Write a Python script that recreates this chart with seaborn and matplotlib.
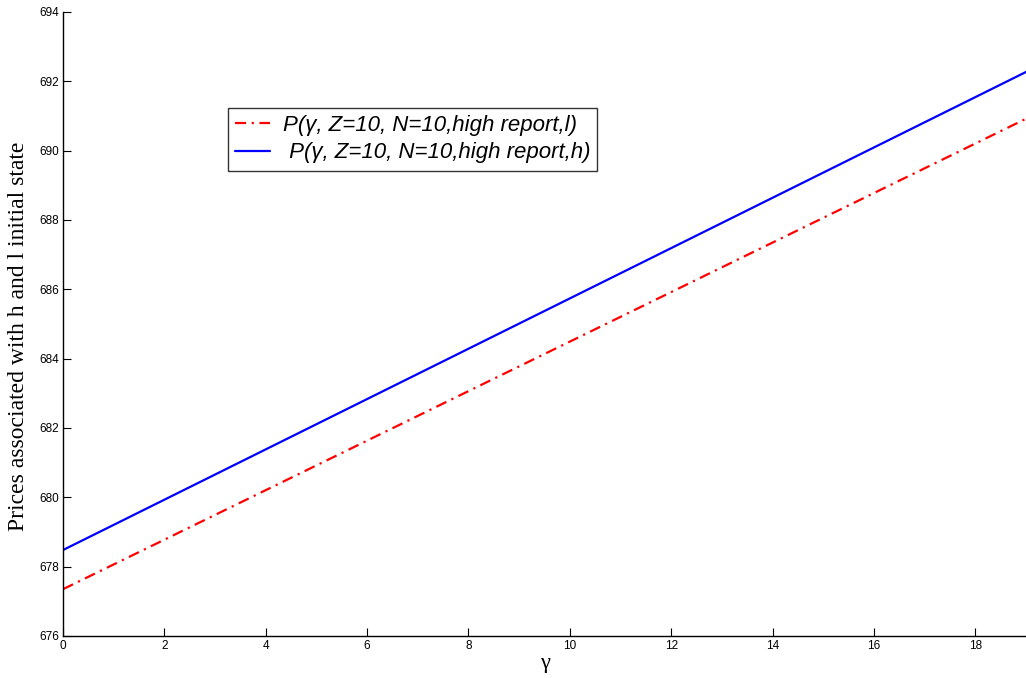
import seaborn as sns
import matplotlib.pyplot as plt
import pandas as pd
import numpy as np

# values
gamma = [0, 19]
price_l = [677.35, 690.92]
price_h = [678.48, 692.27]
label_l = 'P(γ, Z=10, N=10,high report,l)'
label_h = ' P(γ, Z=10, N=10,high report,h)'

df = pd.DataFrame({'gamma': gamma + gamma,
                   'price': price_l + price_h,
                   'series': [label_l] * len(gamma) + [label_h] * len(gamma)})

sns.set_style('ticks', {'text.color': 'black', 'xtick.color': 'black',
                        'ytick.color': 'black', 'axes.labelcolor': 'black'})
plt.rcParams['font.family'] = ['Liberation Sans', 'DejaVu Sans']

fig = plt.figure(figsize=(10.26, 6.78), dpi=100)
ax = fig.add_axes([63 / 1026, 42 / 678, 963 / 1026, 624 / 678])

ax = sns.lineplot(data=df, x='gamma', y='price', hue='series', style='series',
                  palette=['#ff0000', '#0000ff'],
                  dashes=[(5, 2.5, 1, 2.5), ''], linewidth=1.6, ax=ax)

ax.set_xlim(0, 19)
ax.set_ylim(676, 694)
ax.set_xticks(np.arange(0, 19, 2))
ax.set_yticks(np.arange(676, 695, 2))
ax.tick_params(direction='in', length=6, width=0.8, labelsize=8.5, pad=3)
for s in ['top', 'right']:
    ax.spines[s].set_visible(False)
for s in ['left', 'bottom']:
    ax.spines[s].set_linewidth(1.0)
    ax.spines[s].set_color('black')

ax.set_xlabel('γ', family='Liberation Serif', fontsize=16, labelpad=1)
ax.set_ylabel('Prices associated with h and l initial state',
              family='Liberation Serif', fontsize=17)
ax.yaxis.set_label_coords(-0.035, 0.48)

leg = ax.legend(loc='upper left', bbox_to_anchor=(0.171, 0.846),
                prop={'style': 'italic', 'size': 16}, frameon=True,
                fancybox=False, edgecolor='black', handlelength=1.6,
                handletextpad=0.55, borderpad=0.32, labelspacing=0.28,
                borderaxespad=0)
leg.get_frame().set_linewidth(1.0)

fig.savefig('out.png', dpi=100)
